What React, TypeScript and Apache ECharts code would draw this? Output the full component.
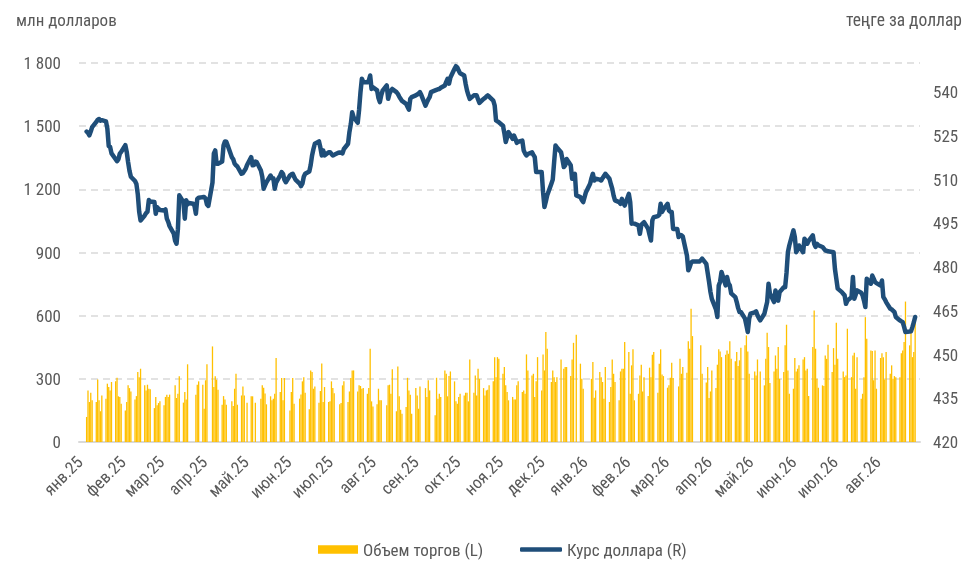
import React, { useEffect, useRef } from "react";
import * as echarts from "echarts";

// ---------- data ----------
const monthLabels = [
  "янв.25", "фев.25", "мар.25", "апр.25", "май.25", "июн.25", "июл.25", "авг.25",
  "сен.25", "окт.25", "ноя.25", "дек.25", "янв.26", "фев.26", "мар.26", "апр.26",
  "май.26", "июн.26", "июл.26", "авг.26",
];

const FIRST_DAY = "2025-01-01";
const LAST_DAY = "2026-08-31";
const FIRST_TRADING_DAY = "2025-01-06";

// Trading volume, mln USD — one inner array per month, one value per weekday (null = no trading)
const volume2025: (number | null)[][] = [
  [119, 245, 190, 234, 198, 190, 297, 198, 146, 221, 206, 277, 261, 245, 285, 288, 305, 217, 214, 182],
  [150, 190, 269, 256, 240, 202, 218, 332, 308, 348, 269, 245, 272, 253, 250, 161, 214, 174, 185, 193],
  [174, 214, 225, 214, 225, null, 269, 209, 229, 312, 187, 237, 202, 369, null, null, null, 225, 272, 288, 272],
  [158, 293, 369, null, 454, 261, 312, 296, 248, 177, 218, 202, 177, null, 193, 171, 253, 324, 177, 221, 264, 221],
  [null, 187, 217, 217, null, 187, null, 206, 269, 258, 230, 179, 217, 198, 206, 229, 399, 237, 304, 198, 304, null],
  [150, 237, 304, 182, null, 206, 226, 288, 308, 234, 155, 340, 332, 253, 264, 187, 242, 373, 190, 261, 190],
  [193, 288, 256, 232, null, 179, 185, 269, 288, 190, 240, 304, 340, 340, 240, 269, 266, 253, 256, 229, 256, 443, 193],
  [169, 179, 253, 198, 198, null, 174, 269, 272, 229, 345, 146, 359, 217, 153, 134, 166, 305, 245, 225, 134],
  [256, 221, 158, 264, null, 256, 214, 293, 245, null, 127, 305, 206, 229, 214, 340, 324, 217, 313, 335, 288, 193],
  [182, 214, 229, 221, 234, 234, 193, 392, 234, 316, 221, 348, 300, 256, 221, 245, 248, 269, 288, 403, 308, 403, 395],
  [324, 356, 269, 237, 198, 214, 202, 202, 269, 288, 237, 245, 229, 416, 340, 316, 324, 214, 288, 403],
  [245, 416, 340, 522, 443, 285, 340, 308, 285, 308, 392, null, 348, 356, 356, 313, 392, 471, null, 509, 372, 300, 253],
];
const volume2026: (number | null)[][] = [
  [null, null, null, 300, 380, 210, 245, 332, 308, 285, 206, 356, 190, 261, 392, 324, 285, 198, 335, 348, 348, 475],
  [427, 229, 364, 440, 198, 229, 316, 367, 240, 308, 218, 353, 308, 414, 427, 234, 372, 440, 320, 313],
  [258, 269, 305, 376, 304, null, 264, 395, 324, 356, 329, 478, 443, 633, 503, null, null, null, 459, 324, 282, 356],
  [209, 240, 340, 256, 367, 440, 430, 403, 414, 435, 419, 478, 395, 383, 427, 361, 388, 448, 459, 506, 430, 324],
  [null, 335, 316, 392, null, 335, 269, 395, 519, 451, 280, 335, 411, 348, 451, 300, 332, 459, 557, 340, 229],
  [253, 399, 335, 348, 364, 392, 403, 340, 348, 218, 451, 625, 443, 300, 258, 269, 266, 411, 395, 462, 332, 446],
  [367, 566, 395, null, 335, 308, 316, 538, 308, 411, 424, 253, 403, 206, 229, 308, 593, 490, 435, 432, 293, 435, 253],
  [399, 422, 403, 297, 427, 324, 364, 300, 313, 308, 308, 422, 435, 475, 667, 459, 546, 403, 427, 566, null],
];

// USD/KZT rate — one inner array per month, one value per weekday
const rate2025: (number | null)[][] = [
  [526.5, 526.0, 525.2, 526.5, 528.0, 529.8, 530.5, 530.8, 530.2, 530.4, 530.0, 527.5, 521.5, 521.2, 519.0, 517.0, 516.3, 517.0, 518.9, 519.5],
  [521.8, 519.5, 516.0, 513.0, 511.0, 509.5, 508.5, 505.0, 499.0, 496.0, 497.7, 498.5, 499.0, 503.0, 502.5, 502.3, 498.3, 500.5, 500.0, 499.6],
  [499.4, 499.8, 496.6, 495.5, 494.0, 491.5, 489.0, 488.0, 493.0, 504.6, 502.3, 496.6, 502.9, 501.5, 502.0, 501.7, 501.0, 498.3, 503.4, 503.8, 504.0],
  [504.0, 503.5, 501.5, 501.0, 509.0, 519.0, 520.0, 515.4, 515.4, 516.2, 521.7, 523.1, 523.0, 521.7, 517.7, 517.0, 515.5, 514.9, 514.5, 512.0, 512.2, 513.0],
  [513.7, 515.0, 517.7, 514.9, 515.0, 516.2, 516.0, 513.1, 511.0, 506.9, 508.0, 509.1, 511.4, 510.5, 510.5, 506.9, 509.0, 511.5, 512.6, 512.0, 510.0, 509.1],
  [511.4, 511.8, 512.0, 511.0, 510.0, 508.6, 507.8, 508.6, 511.0, 512.0, 512.8, 515.0, 518.3, 520.5, 522.3, 523.1, 521.0, 518.3, 520.0, 518.3, 519.4],
  [519.4, 518.8, 518.3, 518.5, 519.2, 519.3, 519.2, 519.0, 520.5, 522.3, 526.3, 529.0, 533.1, 531.4, 529.5, 534.0, 540.0, 544.6, 543.5, 543.4, 544.0, 545.7, 541.1],
  [541.7, 540.6, 538.0, 536.6, 538.9, 540.5, 542.3, 537.7, 539.5, 540.5, 541.1, 540.0, 539.4, 538.5, 537.7, 537.0, 536.0, 535.0, 534.0, 537.7, 538.3],
  [538.9, 539.2, 539.5, 540.0, 539.0, 535.4, 536.5, 537.5, 538.3, 540.0, 540.6, 540.8, 541.0, 541.1, 541.5, 542.3, 543.5, 544.6, 542.9, 545.0, 548.0, 548.9],
  [548.5, 547.4, 546.5, 545.7, 542.9, 540.6, 539.0, 537.7, 538.9, 538.9, 538.9, 537.5, 536.3, 537.7, 538.0, 538.5, 538.9, 538.5, 537.1, 535.5, 530.3, 530.0, 529.7],
  [528.5, 526.0, 522.9, 524.5, 526.3, 524.0, 525.1, 524.0, 522.6, 523.0, 523.4, 520.0, 519.0, 518.3, 518.8, 519.4, 518.5, 517.7, 512.6, 512.6],
  [512.6, 505.7, 500.6, 502.5, 504.6, 508.6, 510.0, 516.0, 521.7, 521.0, 519.4, 517.0, 514.3, 514.9, 517.1, 514.9, 510.3, 511.5, 512.0, 504.6, 504.0, 503.0, 502.3],
];
const rate2026: (number | null)[][] = [
  [504.0, 505.7, 508.6, 510.5, 512.0, 509.7, 510.3, 510.0, 509.7, 510.5, 511.2, 512.0, 510.3, 508.5, 506.9, 504.5, 502.9, 502.3, 501.7, 503.4, 502.0, 501.1],
  [505.1, 502.3, 494.9, 495.0, 494.9, 494.3, 491.4, 494.3, 495.0, 495.4, 493.1, 491.0, 489.1, 496.0, 497.1, 497.5, 497.9, 501.7, 498.9, 499.8],
  [501.7, 499.4, 499.0, 498.9, 493.1, 493.1, 490.3, 491.0, 490.9, 490.5, 484.0, 478.9, 480.0, 481.5, 481.9, 481.9, 481.9, 481.9, 482.3, 482.9, 481.1, 478.0],
  [474.9, 471.5, 469.1, 465.5, 462.9, 473.7, 475.0, 478.3, 473.7, 476.6, 474.5, 473.7, 471.0, 469.7, 468.0, 466.0, 464.6, 464.6, 462.3, 460.0, 457.7, 462.3],
  [464.0, 464.5, 464.8, 463.5, 462.5, 461.7, 464.0, 466.0, 468.0, 474.3, 470.9, 468.0, 472.0, 470.0, 468.5, 471.4, 473.1, 473.1, 478.0, 485.1, 487.4],
  [492.6, 490.3, 485.1, 486.0, 487.4, 485.1, 489.7, 489.0, 488.0, 489.0, 490.9, 488.0, 486.9, 488.0, 487.5, 486.9, 486.3, 485.7, 485.6, 485.4, 485.2, 485.1],
  [479.4, 476.0, 472.6, 471.4, 470.8, 470.3, 467.4, 468.5, 469.7, 476.6, 469.1, 470.5, 472.0, 471.2, 470.3, 468.5, 466.3, 476.0, 474.3, 477.1, 476.0, 474.9, 474.5],
  [473.7, 475.4, 469.7, 469.0, 468.0, 465.7, 465.5, 465.0, 464.6, 462.9, 461.7, 461.4, 461.1, 459.5, 457.7, 457.9, 458.0, 459.4, 461.0, 462.9, null],
];

const volumeName = "Объем торгов (L)";
const rateName = "Курс доллара (R)";
const leftAxisTitle = "млн долларов";
const rightAxisTitle = "теңге за доллар";

// ---------- build daily series on a calendar-day category axis ----------
function buildSeries() {
  const volumeByMonth = [...volume2025, ...volume2026];
  const rateByMonth = [...rate2025, ...rate2026];
  const categories: string[] = [];
  const vol: (number | null)[] = [];
  const rate: (number | null)[] = [];
  const counters: number[] = new Array(volumeByMonth.length).fill(0);
  const start = new Date(FIRST_DAY + "T00:00:00Z");
  for (let i = 0; ; i++) {
    const d = new Date(start.getTime() + i * 86400000);
    const key = d.toISOString().slice(0, 10);
    if (key > LAST_DAY) break;
    categories.push(key);
    const wd = d.getUTCDay();
    const mi = (d.getUTCFullYear() - 2025) * 12 + d.getUTCMonth();
    if (wd === 0 || wd === 6 || key < FIRST_TRADING_DAY) {
      vol.push(null);
      rate.push(null);
      continue;
    }
    const k = counters[mi]++;
    const v = volumeByMonth[mi] ? volumeByMonth[mi][k] : null;
    const r = rateByMonth[mi] ? rateByMonth[mi][k] : null;
    vol.push(v === undefined ? null : v);
    rate.push(r === undefined ? null : r);
  }
  return { categories, vol, rate };
}

const FONT = "'Roboto Condensed', Roboto, sans-serif";
const TEXT = "#595959";
const GRID_LINE = "#d9d9d9";
const BAR_COLOR = "#FFC000";
const LINE_COLOR = "#1F4E79";

export default function App() {
  const ref = useRef<HTMLDivElement>(null);
  useEffect(() => {
    if (!ref.current) return;
    const chart = echarts.init(ref.current, undefined, { renderer: "svg" });
    const { categories, vol, rate } = buildSeries();
    const isMonthStart = (_i: number, v: string) => v.slice(8, 10) === "01";
    const monthLabel = (v: string) => {
      if (v.slice(8, 10) !== "01") return "";
      const mi = (Number(v.slice(0, 4)) - 2025) * 12 + Number(v.slice(5, 7)) - 1;
      return monthLabels[mi] || "";
    };
    const legendText = { fontFamily: FONT, fontSize: 17, color: TEXT };
    chart.setOption({
      animation: false,
      textStyle: { fontFamily: FONT, color: TEXT },
      grid: { left: 79, right: 57, top: 63, bottom: 129, containLabel: false },
      legend: [
        {
          left: 318,
          top: 541,
          padding: 0,
          itemWidth: 40,
          itemHeight: 8.5,
          textStyle: legendText,
          data: [{ name: volumeName, icon: "rect" }],
        },
        {
          left: 520,
          top: 541,
          padding: 0,
          itemWidth: 42,
          itemHeight: 4.5,
          textStyle: legendText,
          data: [{ name: rateName, icon: "roundRect" }],
        },
      ],
      graphic: [
        {
          type: "text",
          left: 16,
          top: 11,
          style: { text: leftAxisTitle, fontFamily: FONT, fontSize: 17, fill: TEXT },
        },
        {
          type: "text",
          right: 15,
          top: 11,
          style: { text: rightAxisTitle, fontFamily: FONT, fontSize: 17.5, fill: TEXT },
        },
      ],
      xAxis: {
        type: "category",
        data: categories,
        boundaryGap: true,
        axisLine: { lineStyle: { color: GRID_LINE, width: 2 } },
        axisTick: { interval: isMonthStart, length: 5, lineStyle: { color: GRID_LINE, width: 2 } },
        axisLabel: {
          interval: isMonthStart,
          formatter: monthLabel,
          rotate: 45,
          margin: 17,
          fontSize: 17,
          color: TEXT,
          fontFamily: FONT,
        },
        splitLine: { show: false },
      },
      yAxis: [
        {
          type: "value",
          min: 0,
          max: 1800,
          interval: 300,
          axisLine: { show: false },
          axisTick: { show: false },
          axisLabel: {
            margin: 18,
            fontSize: 17,
            color: TEXT,
            fontFamily: FONT,
            formatter: (v: number) =>
              v >= 1000 ? `${Math.floor(v / 1000)} ${String(v % 1000).padStart(3, "0")}` : String(v),
          },
          splitLine: { lineStyle: { color: GRID_LINE, width: 1.5, type: [7, 5] } },
        },
        {
          type: "value",
          min: 420,
          max: 550,
          interval: 15,
          axisLine: { show: false },
          axisTick: { show: false },
          axisLabel: { margin: 13, fontSize: 17, color: TEXT, fontFamily: FONT, showMaxLabel: false },
          splitLine: { show: false },
        },
      ],
      series: [
        {
          name: volumeName,
          type: "bar",
          data: vol,
          yAxisIndex: 0,
          barWidth: 1.3,
          itemStyle: { color: BAR_COLOR },
        },
        {
          name: rateName,
          type: "line",
          data: rate,
          yAxisIndex: 1,
          showSymbol: false,
          symbol: "none",
          connectNulls: true,
          lineStyle: { color: LINE_COLOR, width: 4.5, cap: "round", join: "round" },
          itemStyle: { color: LINE_COLOR },
        },
      ],
    });
    return () => chart.dispose();
  }, []);
  return (
    <div
      ref={ref}
      style={{ position: "fixed", left: 0, top: 0, width: 977, height: 571 }}
    />
  );
}
